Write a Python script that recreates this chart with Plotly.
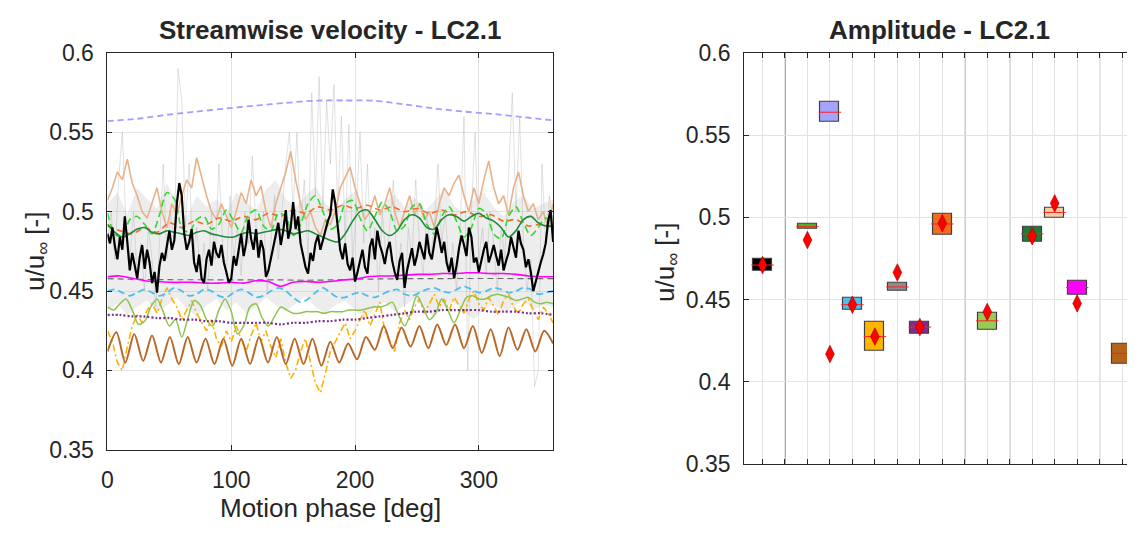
import numpy as np
import plotly.graph_objects as go

# ---------------- DATA: left panel (streamwise velocity vs motion phase) ----------------
lavender_dash = [0.557, 0.5585, 0.561, 0.563, 0.565, 0.5668, 0.5685, 0.5699, 0.570, 0.5698, 0.5675,
                 0.565, 0.563, 0.5615, 0.5595, 0.5575]

tan_noisy = [0.507, 0.515, 0.525, 0.520, 0.533, 0.518, 0.510, 0.500, 0.496, 0.505, 0.515, 0.500, 0.490,
             0.505, 0.498, 0.510, 0.520, 0.515, 0.534, 0.522, 0.510, 0.500, 0.495, 0.505, 0.498, 0.490,
             0.500, 0.512, 0.505, 0.520, 0.510, 0.516, 0.500, 0.490, 0.505, 0.515, 0.525, 0.538, 0.520,
             0.505, 0.495, 0.500, 0.490, 0.485, 0.495, 0.492, 0.500, 0.515, 0.522, 0.528, 0.515, 0.505,
             0.495, 0.500, 0.510, 0.498, 0.505, 0.515, 0.500, 0.490, 0.500, 0.510, 0.498, 0.505, 0.495,
             0.500, 0.490, 0.505, 0.515, 0.510, 0.518, 0.523, 0.510, 0.500, 0.515, 0.505, 0.520, 0.532,
             0.515, 0.505, 0.510, 0.498, 0.515, 0.525, 0.510, 0.500, 0.505, 0.495, 0.500, 0.490, 0.505]

orange_dash = [0.491, 0.488, 0.486, 0.490, 0.487, 0.493, 0.490, 0.494, 0.492, 0.496, 0.494, 0.497, 0.495,
               0.499, 0.497, 0.501, 0.499, 0.503, 0.501, 0.504, 0.502, 0.504, 0.501, 0.503, 0.500, 0.502,
               0.499, 0.501, 0.498, 0.500, 0.497, 0.498, 0.494, 0.495, 0.491, 0.492, 0.490]

green_dash = [0.499, 0.486, 0.484, 0.495, 0.497, 0.492, 0.486, 0.498, 0.512, 0.508, 0.490, 0.487, 0.495,
              0.497, 0.489, 0.492, 0.501, 0.494, 0.487, 0.498, 0.501, 0.491, 0.488, 0.499, 0.497, 0.485,
              0.492, 0.505, 0.510, 0.500, 0.489, 0.492, 0.505, 0.507, 0.496, 0.488, 0.497, 0.506, 0.500,
              0.488, 0.491, 0.503, 0.505, 0.492, 0.486, 0.497, 0.503, 0.494, 0.484, 0.490, 0.502, 0.499,
              0.486, 0.483, 0.497, 0.503, 0.493, 0.485, 0.490, 0.496, 0.492]

darkgreen_solid = [0.492, 0.487, 0.484, 0.486, 0.489, 0.490, 0.487, 0.486, 0.488, 0.487, 0.486, 0.485,
                   0.487, 0.488, 0.486, 0.485, 0.484, 0.484, 0.486, 0.487, 0.486, 0.487, 0.488, 0.489,
                   0.488, 0.486, 0.487, 0.488, 0.486, 0.484, 0.482, 0.481, 0.486, 0.494, 0.500, 0.501,
                   0.495, 0.488, 0.485, 0.488, 0.495, 0.498, 0.496, 0.490, 0.489, 0.495, 0.498, 0.497,
                   0.494, 0.497, 0.499, 0.496, 0.494, 0.490, 0.484, 0.488, 0.495, 0.497, 0.493, 0.491, 0.491]

black_noisy = [0.486, 0.480, 0.490, 0.478, 0.470, 0.484, 0.476, 0.497, 0.481, 0.463, 0.474, 0.466, 0.458,
               0.471, 0.479, 0.464, 0.476, 0.468, 0.455, 0.462, 0.449, 0.466, 0.474, 0.469, 0.480, 0.488,
               0.476, 0.482, 0.505, 0.518, 0.510, 0.486, 0.476, 0.481, 0.489, 0.468, 0.462, 0.473, 0.458,
               0.455, 0.470, 0.476, 0.466, 0.481, 0.474, 0.471, 0.479, 0.468, 0.462, 0.455, 0.458, 0.472,
               0.466, 0.477, 0.486, 0.472, 0.480, 0.495, 0.483, 0.476, 0.489, 0.471, 0.482, 0.476, 0.459,
               0.463, 0.470, 0.478, 0.486, 0.493, 0.479, 0.488, 0.501, 0.483, 0.490, 0.506, 0.489, 0.497,
               0.480, 0.472, 0.465, 0.461, 0.474, 0.469, 0.480, 0.485, 0.476, 0.482, 0.489, 0.494, 0.498,
               0.514, 0.505, 0.488, 0.476, 0.470, 0.480, 0.467, 0.463, 0.471, 0.456, 0.462, 0.470, 0.476,
               0.465, 0.461, 0.478, 0.483, 0.470, 0.488, 0.479, 0.474, 0.467, 0.476, 0.481, 0.469, 0.462,
               0.457, 0.469, 0.474, 0.452, 0.463, 0.470, 0.477, 0.466, 0.472, 0.481, 0.476, 0.470, 0.486,
               0.474, 0.470, 0.479, 0.490, 0.483, 0.474, 0.481, 0.468, 0.462, 0.471, 0.458, 0.466, 0.477,
               0.485, 0.479, 0.472, 0.490, 0.484, 0.468, 0.471, 0.462, 0.470, 0.476, 0.481, 0.468, 0.473,
               0.479, 0.472, 0.466, 0.476, 0.463, 0.469, 0.474, 0.484, 0.478, 0.471, 0.488, 0.480, 0.476,
               0.465, 0.470, 0.462, 0.450, 0.457, 0.462, 0.468, 0.473, 0.480, 0.494, 0.501, 0.481]

gray_dash = [0.4578, 0.4574, 0.4572, 0.4571, 0.4571, 0.4570, 0.4570, 0.4570, 0.4568, 0.4570, 0.4574,
             0.4576, 0.4578, 0.4578, 0.4579, 0.4579, 0.4579, 0.4578, 0.4578]

magenta_solid = [0.459, 0.4595, 0.458, 0.4565, 0.456, 0.4555, 0.4555, 0.4555, 0.455, 0.455, 0.4555,
                 0.455, 0.4565, 0.456, 0.453, 0.4555, 0.456, 0.4555, 0.456, 0.457, 0.4575, 0.459, 0.4595,
                 0.4595, 0.460, 0.4605, 0.4605, 0.461, 0.461, 0.4615, 0.4615, 0.461, 0.461, 0.4605,
                 0.4595, 0.459, 0.459]

lightblue_dash = [0.450, 0.451, 0.449, 0.447, 0.449, 0.451, 0.449, 0.447, 0.449, 0.452, 0.450, 0.447,
                  0.448, 0.451, 0.450, 0.447, 0.446, 0.449, 0.451, 0.449, 0.446, 0.447, 0.450, 0.452,
                  0.450, 0.446, 0.443, 0.445, 0.449, 0.452, 0.449, 0.446, 0.446, 0.448, 0.449, 0.447,
                  0.446, 0.448, 0.450, 0.451, 0.448, 0.447, 0.449, 0.451, 0.452, 0.450, 0.449, 0.451,
                  0.453, 0.451, 0.449, 0.450, 0.452, 0.451, 0.449, 0.450, 0.452, 0.451, 0.448, 0.449, 0.450]

lightgreen_solid = [0.440, 0.438, 0.442, 0.445, 0.438, 0.429, 0.431, 0.440, 0.445, 0.437, 0.428, 0.432,
                    0.421, 0.433, 0.444, 0.441, 0.432, 0.428, 0.438, 0.445, 0.437, 0.423, 0.428, 0.440,
                    0.442, 0.433, 0.428, 0.434, 0.440, 0.438, 0.436, 0.436, 0.437, 0.437, 0.437, 0.436,
                    0.437, 0.437, 0.437, 0.438, 0.438, 0.438, 0.439, 0.440, 0.440, 0.441, 0.443, 0.435,
                    0.428, 0.436, 0.447, 0.440, 0.432, 0.436, 0.445, 0.438, 0.430, 0.438, 0.446, 0.447,
                    0.445, 0.445, 0.447, 0.448, 0.447, 0.446, 0.444, 0.445, 0.446, 0.443, 0.442, 0.443, 0.442]

purple_dot = [0.435, 0.435, 0.434, 0.434, 0.433, 0.433, 0.432, 0.432, 0.431, 0.431, 0.430, 0.430, 0.430,
              0.430, 0.429, 0.430, 0.430, 0.431, 0.431, 0.432, 0.432, 0.433, 0.434, 0.435, 0.436, 0.437,
              0.437, 0.438, 0.438, 0.438, 0.438, 0.437, 0.437, 0.437, 0.436, 0.436, 0.435]

yellow_dashdot = [0.425, 0.418, 0.405, 0.400, 0.415, 0.428, 0.435, 0.430, 0.438, 0.442, 0.436, 0.445,
                  0.452, 0.445, 0.440, 0.432, 0.438, 0.444, 0.436, 0.430, 0.425, 0.432, 0.420, 0.415,
                  0.425, 0.418, 0.428, 0.420, 0.412, 0.422, 0.430, 0.418, 0.425, 0.415, 0.408, 0.420,
                  0.405, 0.395, 0.400, 0.412, 0.420, 0.405, 0.392, 0.386, 0.398, 0.412, 0.418, 0.425,
                  0.430, 0.420, 0.425, 0.432, 0.438, 0.428, 0.435, 0.443, 0.425, 0.418, 0.412, 0.430,
                  0.438, 0.432, 0.440, 0.445, 0.436, 0.442, 0.448, 0.440, 0.445, 0.438, 0.446, 0.441,
                  0.436, 0.445, 0.450, 0.442, 0.438, 0.446, 0.440, 0.435, 0.444, 0.448, 0.440, 0.436,
                  0.442, 0.445, 0.438, 0.432, 0.440, 0.436, 0.430]

brown_solid = [0.412, 0.424, 0.405, 0.423, 0.406, 0.422, 0.405, 0.421, 0.404, 0.421, 0.405, 0.420, 0.404,
               0.420, 0.403, 0.420, 0.404, 0.421, 0.405, 0.421, 0.404, 0.420, 0.404, 0.420, 0.403, 0.418,
               0.405, 0.417, 0.407, 0.421, 0.413, 0.428, 0.414, 0.427, 0.415, 0.428, 0.414, 0.429, 0.416,
               0.429, 0.414, 0.428, 0.411, 0.426, 0.409, 0.427, 0.413, 0.426, 0.412, 0.425, 0.417]

band_upper = [0.505, 0.512, 0.498, 0.515, 0.508, 0.502, 0.518, 0.505, 0.496, 0.510, 0.503, 0.508, 0.499,
              0.512, 0.506, 0.501, 0.514, 0.520, 0.508, 0.503, 0.510, 0.516, 0.505, 0.500, 0.508, 0.513,
              0.502, 0.497, 0.506, 0.511, 0.503, 0.509, 0.500, 0.507, 0.514, 0.504, 0.498, 0.508, 0.512,
              0.503, 0.497, 0.506, 0.510, 0.502, 0.505, 0.508]
band_lower = [0.438, 0.442, 0.435, 0.440, 0.444, 0.437, 0.441, 0.446, 0.439, 0.434, 0.441, 0.445, 0.438,
              0.443, 0.436, 0.440, 0.446, 0.441, 0.437, 0.442, 0.447, 0.440, 0.436, 0.441, 0.444, 0.438,
              0.433, 0.439, 0.443, 0.437, 0.441, 0.445, 0.438, 0.434, 0.440, 0.443, 0.437, 0.432, 0.438,
              0.442, 0.436, 0.440, 0.444, 0.438, 0.441, 0.440]

gray_spikes = [0.48, 0.50, 0.47, 0.52, 0.55, 0.49, 0.47, 0.50, 0.46, 0.48, 0.45, 0.49, 0.47, 0.44, 0.48,
               0.53, 0.47, 0.50, 0.48, 0.59, 0.57, 0.49, 0.53, 0.47, 0.49, 0.46, 0.48, 0.45, 0.50, 0.47,
               0.53, 0.48, 0.46, 0.51, 0.47, 0.49, 0.46, 0.50, 0.48, 0.535, 0.49, 0.47, 0.50, 0.45, 0.48,
               0.51, 0.47, 0.50, 0.53, 0.55, 0.50, 0.55, 0.49, 0.52, 0.47, 0.575, 0.51, 0.585, 0.50, 0.57,
               0.53, 0.58, 0.50, 0.56, 0.48, 0.555, 0.47, 0.50, 0.55, 0.48, 0.53, 0.47, 0.49, 0.45, 0.50,
               0.47, 0.49, 0.52, 0.46, 0.48, 0.44, 0.49, 0.47, 0.52, 0.48, 0.46, 0.50, 0.47, 0.49, 0.53,
               0.48, 0.50, 0.46, 0.48, 0.45, 0.49, 0.56, 0.40, 0.50, 0.55, 0.47, 0.49, 0.46, 0.50, 0.48,
               0.45, 0.49, 0.47, 0.52, 0.575, 0.50, 0.56, 0.48, 0.45, 0.47, 0.39, 0.40, 0.53, 0.48, 0.51, 0.49]

phase_ticks = [0, 100, 200, 300]
y_ticks = [0.35, 0.4, 0.45, 0.5, 0.55, 0.6]

# ---------------- DATA: right panel (amplitude boxes) ----------------
box_pos = [1, 3, 4, 5, 6, 7, 8, 9, 11, 13, 14, 15, 17]
box_q1 = [0.4673, 0.4929, 0.5578, 0.4435, 0.4188, 0.4552, 0.4294, 0.4891, 0.4317, 0.4852, 0.5000, 0.4529, 0.4108]
box_q3 = [0.4746, 0.4958, 0.5701, 0.4510, 0.4367, 0.4602, 0.4367, 0.5021, 0.4419, 0.4944, 0.5060, 0.4617, 0.4231]
box_med = [0.4710, 0.4943, 0.5639, 0.4469, 0.4275, 0.4577, 0.4333, 0.4960, 0.4371, 0.4900, 0.5030, 0.4573, 0.4173]
box_colors = ['#000000', '#4DAF2B', '#A5A3FA', '#4DBEEE', '#FFB400', '#8C8C8C', '#7E2F8E', '#F26B21',
              '#99CC55', '#1E7B34', '#F8CDA4', '#FF00FF', '#B5621D']
diamond_pos = [1, 3, 4, 5, 6, 7, 8, 9, 11, 13, 14, 15]
diamond_val = [0.4710, 0.4862, 0.4169, 0.4469, 0.4275, 0.4665, 0.4333, 0.4964, 0.4425, 0.4885, 0.5085, 0.4477]
separators = [2, 10, 12, 16]
cat_ticks = list(range(1, 18))

# ---------------- LAYOUT HELPERS ----------------
# the page body has an 8 px margin, so the figure is laid out in page pixels minus that offset
OFF = 8
W, H = 1127, 529
def fx(p):
    return (p - OFF) / W
def fy(p):
    return 1 - (p - OFF) / H

FONT = "Liberation Sans, Arial, sans-serif"
TXT = "#262626"
GRID = "#E3E3E3"

fig = go.Figure()

def ph(vals):
    return np.linspace(0, 360, len(vals))

fig.add_trace(go.Scatter(x=ph(band_lower), y=band_lower, mode="lines", line=dict(width=0, color="rgba(0,0,0,0)"),
                         xaxis="x", yaxis="y", hoverinfo="skip"))
fig.add_trace(go.Scatter(x=ph(band_upper), y=band_upper, mode="lines", line=dict(width=0, color="rgba(0,0,0,0)"),
                         fill="tonexty", fillcolor="rgba(200,200,200,0.33)", xaxis="x", yaxis="y"))
fig.add_trace(go.Scatter(x=ph(gray_spikes), y=gray_spikes, mode="lines",
                         line=dict(width=1, color="rgba(170,170,170,0.35)"), xaxis="x", yaxis="y"))

def add_line(vals, color, width=1.5, dash="solid", shape="spline"):
    fig.add_trace(go.Scatter(x=ph(vals), y=vals, mode="lines",
                             line=dict(color=color, width=width, dash=dash, shape=shape, smoothing=0.8),
                             xaxis="x", yaxis="y"))

add_line(tan_noisy, "#E7B28A", 1.6, "solid", "linear")
add_line(lavender_dash, "#A0A0FF", 1.8, "6px,4px")
add_line(yellow_dashdot, "#FFB000", 1.6, "7px,3px,2px,3px", "linear")
add_line(brown_solid, "#B8692A", 2.0)
add_line(lightgreen_solid, "#8DC450", 1.5)
add_line(purple_dot, "#7E2F8E", 2.2, "2px,2px")
add_line(lightblue_dash, "#4DBEEE", 1.8, "7px,4px")
add_line(orange_dash, "#F26B2A", 1.6, "6px,4px")
add_line(green_dash, "#2EDB2E", 1.6, "7px,4px")
add_line(darkgreen_solid, "#1E8C3C", 1.6)
add_line(gray_dash, "#6E6E6E", 1.2, "6px,4px")
add_line(magenta_solid, "#FF00FF", 1.6)
add_line(black_noisy, "#000000", 2.2, "solid", "linear")

# ---------------- right panel ----------------
heights = [q3 - q1 for q1, q3 in zip(box_q1, box_q3)]
fig.add_trace(go.Bar(x=box_pos, y=heights, base=box_q1, width=0.85,
                     marker=dict(color=box_colors, line=dict(color="#404040", width=1.2)),
                     xaxis="x2", yaxis="y2"))
fig.add_trace(go.Scatter(x=box_pos, y=box_med, mode="markers",
                         marker=dict(symbol="line-ew", size=16, line=dict(color="#FF2020", width=1)),
                         xaxis="x2", yaxis="y2"))
fig.add_trace(go.Scatter(x=diamond_pos, y=diamond_val, mode="markers",
                         marker=dict(symbol="diamond-tall", size=12.5, color="#FF0000",
                                     line=dict(color="#A00000", width=0.6)),
                         xaxis="x2", yaxis="y2"))

for s in separators:
    fig.add_shape(type="line", x0=s, x1=s, y0=0, y1=1, xref="x2", yref="y2 domain",
                  line=dict(color="#555555", width=1), layer="below")

axis_common = dict(showline=True, linecolor=TXT, linewidth=1, mirror="ticks", ticks="inside",
                   ticklen=5, tickcolor=TXT, showgrid=True, gridcolor=GRID, gridwidth=1, zeroline=False,
                   tickfont=dict(family=FONT, size=23, color=TXT))

fig.update_layout(
    width=W, height=H, margin=dict(l=0, r=0, t=0, b=0),
    paper_bgcolor="white", plot_bgcolor="white", showlegend=False, bargap=0,
    xaxis=dict(domain=[fx(102), fx(550)], range=[0, 360], tickvals=phase_ticks, anchor="y",
               ticklabelstandoff=10, **axis_common),
    yaxis=dict(domain=[fy(459), fy(41.5)], range=[0.35, 0.6], tickvals=y_ticks, anchor="x",
               ticklabelstandoff=8, **axis_common),
    xaxis2=dict(domain=[fx(742), fx(1134)], range=[0.18, 17.53], tickvals=cat_ticks, showticklabels=False,
                anchor="y2", **axis_common),
    yaxis2=dict(domain=[fy(474), fy(41.5)], range=[0.35, 0.6], tickvals=y_ticks, anchor="x2",
                ticklabelstandoff=8, **axis_common),
)

annots = [
    dict(text="<b>Streamwise velocity - LC2.1</b>", x=fx(326), y=fy(17), size=26, angle=0),
    dict(text="<b>Amplitude - LC2.1</b>", x=fx(938), y=fy(17), size=26, angle=0),
    dict(text="Motion phase [deg]", x=fx(326), y=fy(520), size=26, angle=0),
    dict(text="u/u<sub>∞</sub> [-]", x=fx(30), y=fy(250), size=26, angle=-90),
    dict(text="u/u<sub>∞</sub> [-]", x=fx(664), y=fy(262), size=26, angle=-90),
]
for a in annots:
    fig.add_annotation(text=a["text"], x=a["x"], y=a["y"], xref="paper", yref="paper",
                       xanchor="center", yanchor="middle", showarrow=False, textangle=a["angle"],
                       font=dict(family=FONT, size=a["size"], color=TXT))

fig.write_html("out.html")
